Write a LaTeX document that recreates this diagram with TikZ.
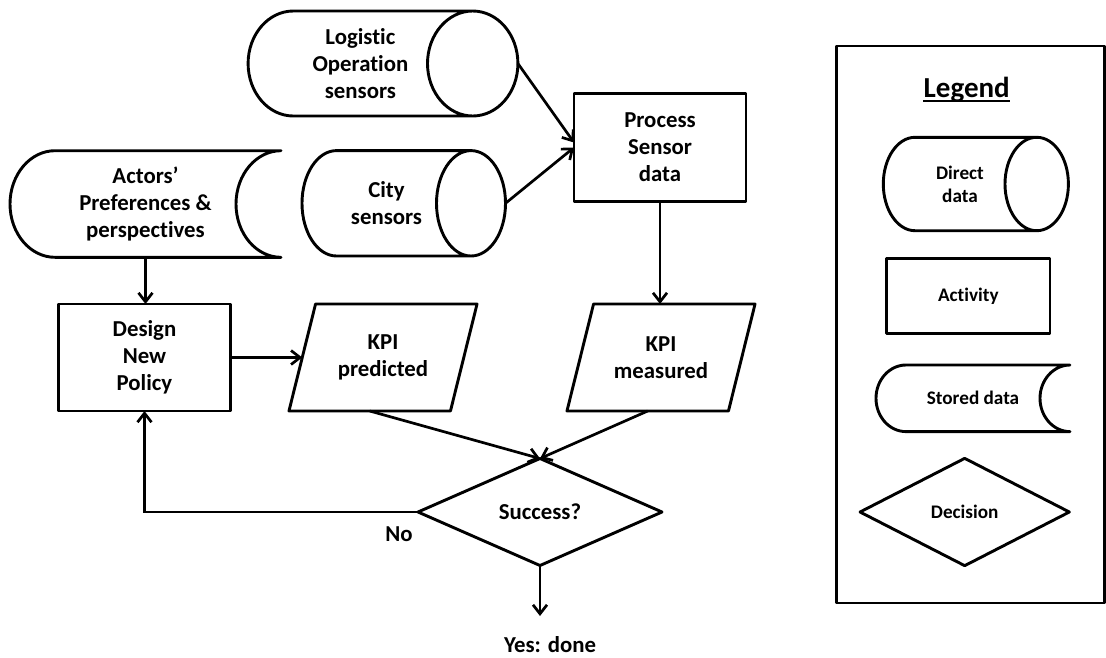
\documentclass[tikz,border=0pt]{standalone}
\usepackage{fontspec}
\setmainfont{Carlito}[Ligatures={TeX,NoCommon}]
\usepackage{tikz}
\usetikzlibrary{shapes.geometric, arrows.meta}

\tikzset{
  outline/.style={line width=2.9pt, line join=round},
  conn/.style={->, line width=2.7pt},
  txt/.style={font=\fontsize{22.8}{27}\selectfont\bfseries, align=center, inner sep=0pt, outer sep=0pt},
  smalltxt/.style={font=\fontsize{19.2}{23.3}\selectfont\bfseries, align=center, inner sep=0pt, outer sep=0pt},
  activity/.style={draw, outline, rectangle},
  decision/.style={draw, outline, diamond, inner sep=0pt},
  % direct data: node runs from the left end to the centre of the cap
  direct/.style 2 args={minimum height=2*#2, append after command={\pgfextra{
      \draw[outline] ([xshift=#1]\tikzlastnode.north west) -- (\tikzlastnode.north east)
        arc[start angle=90, end angle=-270, x radius=#1, y radius=#2]
        (\tikzlastnode.south east) -- ([xshift=#1]\tikzlastnode.south west)
        arc[start angle=270, end angle=90, x radius=#1, y radius=#2];
      \coordinate (\tikzlastnode-end) at ([xshift=#1]\tikzlastnode.east);}}},
  % stored data
  stored/.style 2 args={minimum height=2*#2, append after command={\pgfextra{
      \draw[outline] ([xshift=#1]\tikzlastnode.north west) -- (\tikzlastnode.north east)
        arc[start angle=90, end angle=270, x radius=#1, y radius=#2]
        -- ([xshift=#1]\tikzlastnode.south west)
        arc[start angle=270, end angle=90, x radius=#1, y radius=#2];}}},
  % slanted box for the KPIs
  kpi/.style={minimum width=161.5pt, minimum height=107pt, append after command={\pgfextra{
      \draw[outline] ([xshift=13.3pt]\tikzlastnode.north west) -- ([xshift=13.3pt]\tikzlastnode.north east)
        -- ([xshift=-13.3pt]\tikzlastnode.south east) -- ([xshift=-13.3pt]\tikzlastnode.south west) -- cycle;
      \coordinate (\tikzlastnode-bottom) at ([xshift=-13.3pt]\tikzlastnode.south);}}}
}

\begin{document}
\begin{tikzpicture}[x=1pt, y=-1pt, >={Straight Barb[length=9pt,width=14pt]}]
\useasboundingbox (0,0) rectangle (1106,657);

% data sources
\node[txt, direct={45.2pt}{52.5pt}, minimum width=224.6pt] (logistic) at (360.4,63.5) {Logistic\\Operation\\sensors};
\node[txt, direct={34.5pt}{52.7pt}, minimum width=169pt] (city) at (386.5,203.3) {City\\sensors};
\node[txt, stored={45pt}{53.3pt}, minimum width=271pt] (actors) at (145.5,204) {Actors’\\Preferences \&\\perspectives};

% activities
\node[txt, activity, minimum width=172pt, minimum height=108pt] (process) at (660,147.5) {Process\\Sensor\\data};
\node[txt, activity, minimum width=172.3pt, minimum height=107pt] (design) at (144.5,357.5) {Design\\New\\Policy};
\node[txt, kpi] (kpipred) at (383,357.5) {KPI\\predicted};
\node[txt, kpi] (kpimeas) at (661,357.5) {KPI\\measured};

% decision
\node[txt, decision, minimum width=244pt, minimum height=107pt] (success) at (540,512) {Success?};
\node[txt] (no) at (399,534) {No};
\coordinate (done) at (540,616);
\node[txt] (yes) at (550,644.5) {Yes: done};

% connectors
\draw[conn] (logistic-end) -- ([yshift=5pt]process.west);
\draw[conn] (city-end) -- (process.west);
\draw[conn] (actors.south) -- (actors.south |- design.north);
\draw[conn] (process.south) -- (process.south |- kpimeas.north);
\draw[conn] (design) -- (kpipred);
\draw[conn] (kpipred-bottom) -- (success.north);
\draw[conn] (kpimeas-bottom) -- (success.north);
\draw[conn] (success.west) -| (design.south);
\draw[conn] (success.south) -- (done);

% legend
\node[draw, outline, minimum width=267.8pt, minimum height=557pt] (legendbox) at (970.6,324.5) {};
\node[font=\fontsize{29}{34}\selectfont\bfseries, inner sep=0pt] (title) at (966.7,90) {Legend};
\draw[line width=2pt] ([yshift=-3pt]title.base west) -- ([yshift=-3pt]title.base east);
\node[smalltxt, direct={31.7pt}{46.7pt}, minimum width=153.4pt] (ldirect) at (960,184) {Direct\\data};
\node[smalltxt, activity, minimum width=163.3pt, minimum height=75.7pt] (lactivity) at (968.3,296) {Activity};
\node[smalltxt, stored={30pt}{33.3pt}, minimum width=194pt] (lstored) at (973,398.3) {Stored data};
\node[smalltxt, decision, minimum width=209.3pt, minimum height=107.3pt] (ldecision) at (964.7,512) {Decision};
\end{tikzpicture}
\end{document}
